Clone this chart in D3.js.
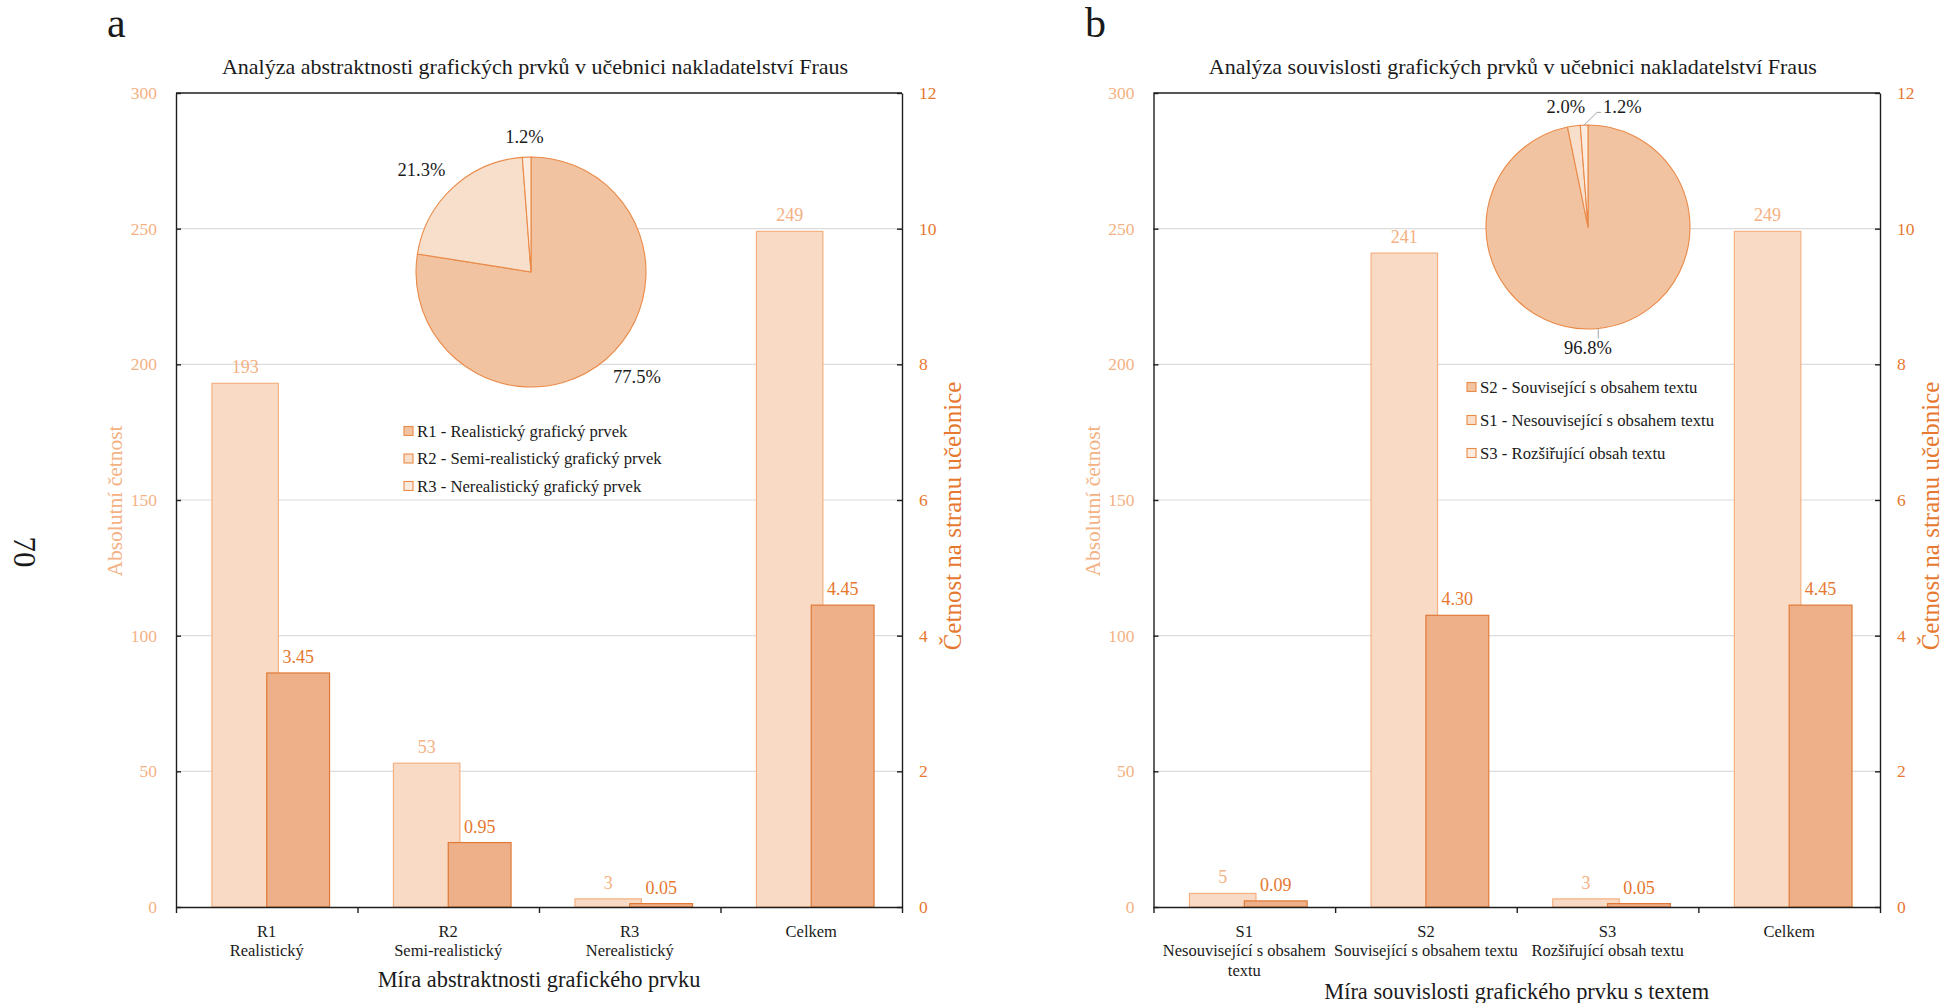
<!DOCTYPE html>
<html><head><meta charset="utf-8">
<script src="https://cdn.jsdelivr.net/npm/d3@7"></script>
<style>
body{margin:0;background:#fff}
svg{display:block}
text{font-family:"Liberation Serif","Times New Roman",serif}
</style>
</head><body>
<svg id="c" width="1948" height="1003"></svg>
<script>
// ---------------- DATA ----------------
const catsA = [["R1","Realistický"],["R2","Semi-realistický"],["R3","Nerealistický"],["Celkem"]];
const countsA = [193, 53, 3, 249];
const perPageA = [3.45, 0.95, 0.05, 4.45];
const pieNamesA = ["R1 - Realistický grafický prvek","R2 - Semi-realistický grafický prvek","R3 - Nerealistický grafický prvek"];
const pieValuesA = [193, 53, 3];
const pieLabelsA = ["77.5%","21.3%","1.2%"];

const catsB = [["S1","Nesouvisející s obsahem","textu"],["S2","Související s obsahem textu"],["S3","Rozšiřující obsah textu"],["Celkem"]];
const countsB = [5, 241, 3, 249];
const perPageB = [0.09, 4.30, 0.05, 4.45];
const pieNamesB = ["S2 - Související s obsahem textu","S1 - Nesouvisející s obsahem textu","S3 - Rozšiřující obsah textu"];
const pieValuesB = [241, 5, 3];
const pieLabelsB = ["96.8%","2.0%","1.2%"];

const leftTicks = [0, 50, 100, 150, 200, 250, 300];
const rightTicks = [0, 2, 4, 6, 8, 10, 12];

const titleA = "Analýza abstraktnosti grafických prvků v učebnici nakladatelství Fraus";
const titleB = "Analýza souvislosti grafických prvků v učebnici nakladatelství Fraus";
const xTitleA = "Míra abstraktnosti grafického prvku";
const xTitleB = "Míra souvislosti grafického prvku s textem";
const yTitleLeft = "Absolutní četnost";
const yTitleRight = "Četnost na stranu učebnice";
const pageNumber = "70";

// ---------------- STYLE / LAYOUT ----------------
const C = {
  lightFill:"#F8DAC5", lightStroke:"#F4B183",
  darkFill:"#EEB088", darkStroke:"#E07A38",
  lightText:"#F4B183", darkText:"#E6782F",
  pieFills:["#F1C3A0","#F8DFCB","#FCEBDF"], pieStroke:"#EA8A48",
  grid:"#DCDCDC", axis:"#1e1e1e", text:"#1a1a1a"
};
const Y0 = 907, Y1 = 93;

const panels = [
  {letter:"a", title:titleA, xTitle:xTitleA, cats:catsA, counts:countsA, perPage:perPageA,
   pieNames:pieNamesA, pieValues:pieValuesA, pieLabels:pieLabelsA,
   x0:176, x1:902, letterX:107, pie:{cx:531, cy:272, r:115},
   legend:{x:404, y:431, dy:27.5}, xTitleY:979},
  {letter:"b", title:titleB, xTitle:xTitleB, cats:catsB, counts:countsB, perPage:perPageB,
   pieNames:pieNamesB, pieValues:pieValuesB, pieLabels:pieLabelsB,
   x0:1153.5, x1:1880, letterX:1085, pie:{cx:1588, cy:227, r:102},
   legend:{x:1467, y:387, dy:33}, xTitleY:991}
];

const svg = d3.select("#c");

// page number (rotated)
svg.append("text").attr("transform","translate(24,552) rotate(90)")
  .attr("text-anchor","middle").attr("dominant-baseline","central")
  .attr("font-size",31).attr("fill",C.text).text(pageNumber);

panels.forEach(p => {
  const g = svg.append("g");
  const yL = d3.scaleLinear().domain([0,300]).range([Y0,Y1]);
  const yR = d3.scaleLinear().domain([0,12]).range([Y0,Y1]);
  const xb = d3.scaleBand().domain(d3.range(p.cats.length)).range([p.x0,p.x1]).padding(0);
  const xl = d3.scaleLinear().domain([0,p.cats.length]).range([p.x0,p.x1]);
  const bw = xb.bandwidth();
  const midX = (p.x0+p.x1)/2;

  // panel letter
  g.append("text").attr("x",p.letterX).attr("y",37).attr("font-size",42).attr("fill",C.text).text(p.letter);
  // title
  g.append("text").attr("x",midX-4).attr("y",66).attr("text-anchor","middle").attr("dominant-baseline","central")
    .attr("font-size",22).attr("fill",C.text).text(p.title);

  // gridlines
  g.selectAll("line.grid").data(leftTicks.filter(t=>t>0 && t<300)).join("line")
    .attr("x1",p.x0).attr("x2",p.x1).attr("y1",d=>yL(d)).attr("y2",d=>yL(d))
    .attr("stroke",C.grid).attr("stroke-width",1.2);

  // bars
  const idx = d3.range(p.cats.length);
  g.selectAll("rect.light").data(idx).join("rect")
    .attr("x",i=>xb(i)+0.198*bw).attr("width",0.366*bw)
    .attr("y",i=>yL(p.counts[i])).attr("height",i=>Y0-yL(p.counts[i]))
    .attr("fill",C.lightFill).attr("stroke",C.lightStroke).attr("stroke-width",1.2);
  g.selectAll("rect.dark").data(idx).join("rect")
    .attr("x",i=>xb(i)+0.5*bw).attr("width",0.346*bw)
    .attr("y",i=>yR(p.perPage[i])).attr("height",i=>Y0-yR(p.perPage[i]))
    .attr("fill",C.darkFill).attr("stroke",C.darkStroke).attr("stroke-width",1.2);

  // value labels
  g.selectAll("text.lv").data(idx).join("text")
    .attr("x",i=>xb(i)+0.381*bw).attr("y",i=>yL(p.counts[i])-10)
    .attr("text-anchor","middle").attr("font-size",18).attr("fill",C.lightText)
    .text(i=>d3.format("d")(p.counts[i]));
  g.selectAll("text.dv").data(idx).join("text")
    .attr("x",i=>xb(i)+0.673*bw).attr("y",i=>yR(p.perPage[i])-10)
    .attr("text-anchor","middle").attr("font-size",18).attr("fill",C.darkText)
    .text(i=>d3.format(".2f")(p.perPage[i]));

  // axes
  const axL = g.append("g").attr("transform",`translate(${p.x0},0)`)
    .call(d3.axisLeft(yL).tickValues(leftTicks).tickSizeInner(-5).tickSizeOuter(0).tickPadding(19).tickFormat(d3.format("d")));
  axL.selectAll("text").attr("fill",C.lightText).attr("font-size",17.5).attr("font-family","Liberation Serif");
  const axR = g.append("g").attr("transform",`translate(${p.x1},0)`)
    .call(d3.axisRight(yR).tickValues(rightTicks).tickSizeInner(-5).tickSizeOuter(0).tickPadding(17).tickFormat(d3.format("d")));
  axR.selectAll("text").attr("fill",C.darkText).attr("font-size",17.5).attr("font-family","Liberation Serif");
  const axB = g.append("g").attr("transform",`translate(0,${Y0})`)
    .call(d3.axisBottom(xl).tickValues(d3.range(p.cats.length+1)).tickSizeInner(6).tickSizeOuter(0).tickFormat(""));
  [axL,axR,axB].forEach(a=>{a.selectAll("path,line").attr("stroke",C.axis).attr("stroke-width",1.4);});
  // top border
  g.append("line").attr("x1",p.x0).attr("x2",p.x1).attr("y1",Y1).attr("y2",Y1).attr("stroke",C.axis).attr("stroke-width",1.4);

  // category labels
  idx.forEach(i=>{
    p.cats[i].forEach((ln,k)=>{
      g.append("text").attr("x",xb(i)+bw/2).attr("y",931+k*19.5)
        .attr("text-anchor","middle").attr("dominant-baseline","central")
        .attr("font-size",16.5).attr("fill",C.text).text(ln);
    });
  });
  // x title
  g.append("text").attr("x",midX).attr("y",p.xTitleY).attr("text-anchor","middle").attr("dominant-baseline","central")
    .attr("font-size",22.4).attr("fill",C.text).text(p.xTitle);
  // y titles
  g.append("text").attr("transform",`translate(${p.x0-61},501) rotate(-90)`)
    .attr("text-anchor","middle").attr("dominant-baseline","central")
    .attr("font-size",21.5).attr("fill",C.lightText).text(yTitleLeft);
  g.append("text").attr("transform",`translate(${p.x1+50},516) rotate(-90)`)
    .attr("text-anchor","middle").attr("dominant-baseline","central")
    .attr("font-size",25).attr("fill",C.darkText).text(yTitleRight);

  // pie
  const pie = d3.pie().sort(null).value(d=>d)(p.pieValues);
  const arc = d3.arc().innerRadius(0).outerRadius(p.pie.r);
  const pg = g.append("g").attr("transform",`translate(${p.pie.cx},${p.pie.cy})`);
  pg.selectAll("path").data(pie).join("path").attr("d",arc)
    .attr("fill",(d,i)=>C.pieFills[i]).attr("stroke",C.pieStroke).attr("stroke-width",1.1).attr("stroke-linejoin","round");

  // pie labels
  const fs = 18.5, h = 17;
  const labs = pie.map((d,i)=>{
    const th = (d.startAngle+d.endAngle)/2;
    const s = Math.sin(th), c = Math.cos(th);
    const R = p.pie.r*1.1;
    const px = s*R, py = -c*R;
    const t = pg.append("text").attr("font-size",fs).attr("fill",C.text).text(p.pieLabels[i]);
    const w = t.node().getComputedTextLength();
    const hx = Math.max(-1,Math.min(1,s*2.5))*w/2;
    const vy = Math.max(-1,Math.min(1,-c*2.5))*h/2;
    return {t, w, cx:px+hx, cy:py+vy, ex:s*p.pie.r, ey:-c*p.pie.r, moved:false, s, c};
  });
  // collision pass
  for (let i=0;i<labs.length;i++){
    for (let j=0;j<i;j++){
      const a=labs[j], b=labs[i];
      if (Math.abs(a.cx-b.cx) < (a.w+b.w)/2+4 && Math.abs(a.cy-b.cy) < h){
        b.cx = a.cx + (a.w+b.w)/2 + 18; b.cy = a.cy; b.moved = true;
      }
    }
  }
  // a label directly under a dominant slice is centred under the pie with a short leader
  labs.forEach(L=>{
    if (L.c < -0.97){ L.cx = 0; L.cy = p.pie.r + 19; L.leaderDown = true; }
  });
  labs.forEach(L=>{
    L.t.attr("x",L.cx).attr("y",L.cy).attr("text-anchor","middle").attr("dominant-baseline","central");
    if (L.moved){
      const lx = L.cx - L.w/2 - 2, ly = L.cy + 5;
      pg.append("polyline").attr("points",`${L.ex},${L.ey} ${lx-4},${ly} ${lx},${ly}`)
        .attr("fill","none").attr("stroke","#a6a6a6").attr("stroke-width",1);
    }
    if (L.leaderDown){
      pg.append("line").attr("x1",L.ex).attr("x2",L.ex).attr("y1",L.ey).attr("y2",L.cy-h/2-1)
        .attr("stroke","#a6a6a6").attr("stroke-width",1);
    }
  });

  // legend
  const lg = g.append("g");
  p.pieNames.forEach((nm,i)=>{
    const yy = p.legend.y + i*p.legend.dy;
    lg.append("rect").attr("x",p.legend.x).attr("y",yy-4.5).attr("width",9).attr("height",9)
      .attr("fill",C.pieFills[i]).attr("stroke",C.pieStroke).attr("stroke-width",1.1);
    lg.append("text").attr("x",p.legend.x+13).attr("y",yy).attr("dominant-baseline","central")
      .attr("font-size",16.7).attr("fill",C.text).text(nm);
  });
});
</script>
</body></html>
